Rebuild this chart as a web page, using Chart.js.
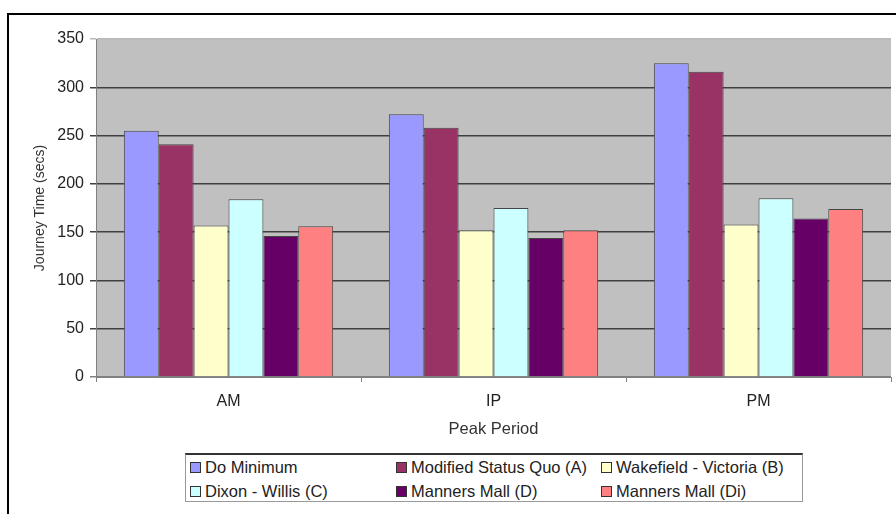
<!DOCTYPE html>
<html>
<head>
<meta charset="utf-8">
<script src="https://cdn.jsdelivr.net/npm/chart.js@4/dist/chart.umd.min.js"></script>
<style>
  html, body { margin: 0; padding: 0; background: #fff; overflow: hidden; }
  #wrap { position: relative; width: 896px; height: 514px; }
  #frame { position: absolute; left: 7px; top: 13px; width: 1000px; height: 600px; border: 2px solid #000; }
  canvas { position: absolute; left: 0; top: 0; }
  #legend {
    position: absolute; left: 185px; top: 453px; width: 618px; height: 49px;
    box-sizing: border-box; border: 1px solid #999; border-top: 2px solid #333;
    font: 16.5px "Liberation Sans", Arial, sans-serif; color: #222; background: #fff;
  }
  .item { position: absolute; height: 20px; display: flex; align-items: center; white-space: nowrap; }
  .box { width: 9px; height: 9px; border: 1px solid #333; margin-right: 4px; }
</style>
</head>
<body>
<div id="wrap">
  <div id="frame"></div>
  <canvas id="chart" width="896" height="514"></canvas>
  <div id="legend"></div>
</div>
<script>
const periods = ["AM", "IP", "PM"];
const seriesNames = [
  "Do Minimum",
  "Modified Status Quo (A)",
  "Wakefield - Victoria (B)",
  "Dixon - Willis (C)",
  "Manners Mall (D)",
  "Manners Mall (Di)",
];
const doMinimum = [255, 272, 325];
const modifiedStatusQuo = [241, 258, 316];
const wakefieldVictoria = [157, 152, 158];
const dixonWillis = [184, 175, 185];
const mannersMallD = [146, 144, 164];
const mannersMallDi = [156, 152, 174];
const yTicks = [0, 50, 100, 150, 200, 250, 300, 350];

const seriesValues = [doMinimum, modifiedStatusQuo, wakefieldVictoria, dixonWillis, mannersMallD, mannersMallDi];
const colors = ["#9999FF", "#993366", "#FFFFCC", "#CCFFFF", "#660066", "#FF8080"];
const FONT = '"Liberation Sans", Arial, sans-serif';

const plotBackground = {
  id: "plotBackground",
  beforeDraw(chart) {
    const { ctx, chartArea: a } = chart;
    ctx.save();
    ctx.fillStyle = "#C0C0C0";
    ctx.fillRect(a.left, a.top, a.right - a.left, a.bottom - a.top);
    ctx.restore();
  },
};

const ctx = document.getElementById("chart").getContext("2d");
new Chart(ctx, {
  type: "bar",
  data: {
    labels: periods,
    datasets: seriesNames.map((name, i) => ({
      label: name,
      data: seriesValues[i],
      backgroundColor: colors[i],
      borderColor: "#444",
      borderWidth: 1,
      borderSkipped: "bottom",
      categoryPercentage: 0.79,
      barPercentage: 1,
    })),
  },
  options: {
    responsive: false,
    devicePixelRatio: 1,
    animation: false,
    layout: { padding: { left: 0, top: 39, right: 5, bottom: 70 } },
    plugins: {
      legend: { display: false },
      tooltip: { enabled: false },
    },
    scales: {
      x: {
        grid: { offset: true, drawOnChartArea: false, drawTicks: true, tickLength: 5, color: "#808080" },
        border: { color: "#808080" },
        ticks: { color: "#222", padding: 10, font: { family: FONT, size: 16 } },
        title: {
          display: true, text: "Peak Period", color: "#333",
          font: { family: FONT, size: 16.5 }, padding: { top: 0, bottom: 5 },
        },
        afterFit(s) { s.height = 67; },
      },
      y: {
        min: 0,
        max: 350,
        afterBuildTicks(s) { s.ticks = yTicks.map(v => ({ value: v })); },
        grid: {
          tickLength: 6,
          lineWidth: 1.5,
          color: c => (c.tick && c.tick.value === 350 ? "#B8B8B8" : c.tick && c.tick.value === 0 ? "#808080" : "#404040"),
        },
        border: { color: "#808080" },
        ticks: { color: "#222", padding: 6, font: { family: FONT, size: 16 } },
        title: {
          display: true, text: "Journey Time (secs)", color: "#333",
          font: { family: FONT, size: 14 }, padding: { top: 32, bottom: 0 },
        },
        afterFit(s) { s.width = 96; },
      },
    },
  },
  plugins: [plotBackground],
});

// legend laid out as a 3-column grid like the original
const legend = document.getElementById("legend");
const colX = [4, 210, 415];
const rowY = [2, 26];
seriesNames.forEach((name, i) => {
  const item = document.createElement("div");
  item.className = "item";
  item.style.left = colX[i % 3] + "px";
  item.style.top = rowY[Math.floor(i / 3)] + "px";
  const box = document.createElement("span");
  box.className = "box";
  box.style.background = colors[i];
  item.appendChild(box);
  item.appendChild(document.createTextNode(name));
  legend.appendChild(item);
});
</script>
</body>
</html>
